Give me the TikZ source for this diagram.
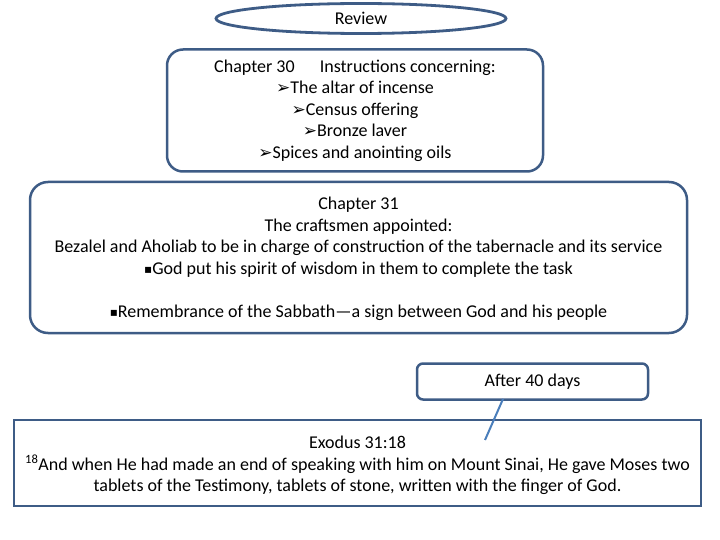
\documentclass[tikz,border=0pt]{standalone}
\usepackage{fontspec}
\setmainfont{Carlito}
\newfontfamily\symfont{DejaVu Sans}
\usetikzlibrary{shapes.geometric}
\definecolor{boxline}{RGB}{62,92,134}
\definecolor{pointer}{RGB}{74,126,187}
\newcommand{\arrowbul}{{\symfont\fontsize{17}{17}\selectfont ➢}}
\newcommand{\squarebul}{{\symfont\fontsize{12}{12}\selectfont\raisebox{1pt}{▪}}}

\begin{document}
\begin{tikzpicture}[x=1pt,y=-1pt,
    slidetext/.style={font=\fontsize{18}{21.6}\selectfont, align=center, text=black},
    roundbox/.style={draw=boxline, line width=2.5pt, rounded corners=#1, fill=white, inner sep=0pt, slidetext},
    roundbox/.default=16pt]
        \useasboundingbox (0,0) rectangle (720,540);
        %
        \node[ellipse, draw=boxline, line width=2.8pt, fill=white, inner sep=0pt,
              minimum width=290, minimum height=30, slidetext] (review) at (361,18.5) {Review};
        %
        \node[roundbox, minimum width=376, minimum height=122] (ch30) at (355,110.5)
            {Chapter 30\hspace{1.4em}Instructions concerning:\\
             \arrowbul The altar of incense\\
             \arrowbul Census offering\\
             \arrowbul Bronze laver\\
             \arrowbul Spices and anointing oils};
        %
        \node[roundbox=18pt, minimum width=657, minimum height=151] (ch31) at (358.5,257.5)
            {\rule{0pt}{15pt}Chapter 31\\
             The craftsmen appointed:\\
             Bezalel and Aholiab to be in charge of construction of the tabernacle and its service\\
             \squarebul God put his spirit of wisdom in them to complete the task\\
             \mbox{}\\
             \squarebul Remembrance of the Sabbath---a sign between God and his people};
        %
        \node[draw=boxline, line width=2.5pt, fill=white, inner sep=0pt,
              minimum width=687, minimum height=86, slidetext] (exodus) at (357.5,463)
            {\rule{0pt}{17.5pt}Exodus 31:18\\
             \textsuperscript{18}And when He had made an end of speaking with him on Mount Sinai, He gave Moses two\\
             tablets of the Testimony, tablets of stone, written with the finger of God.};
        %
        \node[roundbox=6pt, minimum width=231, minimum height=36] (after) at (532.5,381.5) {After 40 days};
        \coordinate (calloutbase) at (503,399);
        \coordinate (callouttip) at (485,440);
        \draw[pointer, line width=2pt] (calloutbase) -- (callouttip);
    \end{tikzpicture}
\end{document}
